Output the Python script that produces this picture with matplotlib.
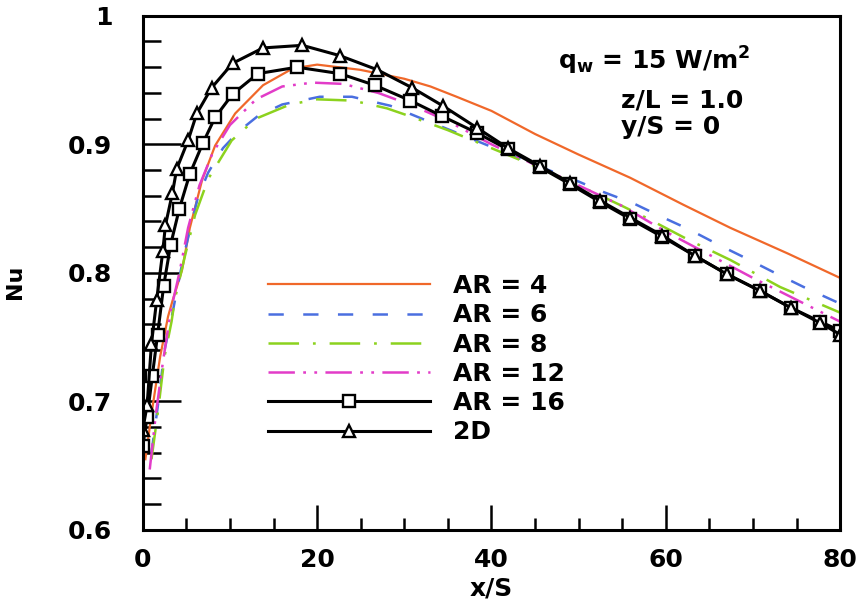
import matplotlib
matplotlib.use('Agg')
import matplotlib.pyplot as plt

plt.rcParams['font.family'] = ['DejaVu Sans']
plt.rcParams['font.weight'] = 'bold'
plt.rcParams['mathtext.fontset'] = 'custom'
plt.rcParams['mathtext.rm'] = 'DejaVu Sans:bold'
plt.rcParams['mathtext.bf'] = 'DejaVu Sans:bold'
plt.rcParams['mathtext.it'] = 'DejaVu Sans:bold'
plt.rcParams['lines.scale_dashes'] = False

# AR = 4
x_ar4 = [0.3, 1.0, 2.0, 2.9, 3.4, 4.5, 5.4, 6.8, 8.3, 10.6, 13.8, 17.2, 20.0, 24.9, 30.0,
         33.0, 36.0, 40.0, 45.0, 50.0, 55.9, 62.0, 67.4, 74.0, 80.0]
nu_ar4 = [0.655, 0.690, 0.735, 0.766, 0.778, 0.802, 0.835, 0.872, 0.899, 0.924, 0.946, 0.959,
          0.962, 0.958, 0.951, 0.945, 0.937, 0.926, 0.908, 0.892, 0.874, 0.853, 0.835, 0.815,
          0.796]

# AR = 6
x_ar6 = [1.0, 1.8, 2.5, 3.3, 4.6, 5.6, 6.3, 7.5, 9.2, 11.0, 13.2, 16.0, 20.3, 24.0, 28.4,
         32.0, 36.0, 40.0, 45.0, 50.0, 52.8, 56.3, 59.7, 62.6, 66.0, 69.3, 72.5, 75.8, 80.0]
nu_ar6 = [0.660, 0.700, 0.740, 0.765, 0.810, 0.839, 0.858, 0.878, 0.897, 0.910, 0.922, 0.931,
          0.937, 0.937, 0.930, 0.920, 0.909, 0.898, 0.884, 0.871, 0.863, 0.854, 0.843, 0.834,
          0.822, 0.811, 0.800, 0.789, 0.776]

# AR = 8
x_ar8 = [1.0, 1.8, 2.5, 3.3, 3.7, 4.8, 6.0, 7.5, 10.2, 13.0, 16.9, 20.0, 24.1, 28.0, 31.0,
         35.0, 40.0, 45.0, 50.0, 55.0, 58.0, 62.5, 67.4, 73.1, 80.0]
nu_ar8 = [0.655, 0.695, 0.735, 0.762, 0.780, 0.812, 0.845, 0.873, 0.903, 0.920, 0.931, 0.935,
          0.934, 0.928, 0.921, 0.911, 0.897, 0.883, 0.868, 0.852, 0.842, 0.826, 0.810, 0.789,
          0.769]

# AR = 12
x_ar12 = [0.8, 1.5, 2.3, 3.2, 4.2, 5.2, 6.5, 8.0, 10.0, 13.0, 16.0, 19.5, 23.0, 27.0, 31.0,
          35.0, 40.0, 45.0, 50.0, 55.0, 60.0, 65.0, 70.0, 75.0, 80.0]
nu_ar12 = [0.647, 0.690, 0.730, 0.770, 0.800, 0.835, 0.868, 0.893, 0.915, 0.935, 0.945, 0.948,
           0.947, 0.940, 0.930, 0.918, 0.900, 0.884, 0.868, 0.852, 0.832, 0.814, 0.796, 0.779,
           0.762]

# AR = 16
x_ar16 = [0.0, 0.5, 1.1, 1.7, 2.4, 3.2, 4.2, 5.4, 6.9, 8.3, 10.3, 13.2, 17.7, 22.6, 26.6,
          30.7, 34.3, 38.3, 41.9, 45.6, 49.0, 52.5, 55.9, 59.6, 63.4, 67.0, 70.8, 74.3, 77.7, 80.0]
nu_ar16 = [0.665, 0.688, 0.720, 0.752, 0.790, 0.822, 0.850, 0.877, 0.901, 0.921, 0.939, 0.955,
           0.960, 0.955, 0.946, 0.934, 0.922, 0.909, 0.896, 0.882, 0.869, 0.855, 0.842, 0.828,
           0.813, 0.799, 0.786, 0.773, 0.762, 0.755]

# 2D
x_2d = [0.0, 0.5, 1.0, 1.6, 2.3, 2.6, 3.4, 3.9, 5.2, 6.2, 7.9, 10.3, 13.8, 18.3, 22.6, 26.9,
        30.9, 34.4, 38.3, 41.9, 45.6, 49.0, 52.5, 55.9, 59.6, 63.4, 67.0, 70.8, 74.3, 77.7, 80.0]
nu_2d = [0.678, 0.697, 0.745, 0.779, 0.817, 0.837, 0.862, 0.881, 0.903, 0.924, 0.944, 0.963,
         0.975, 0.977, 0.969, 0.958, 0.944, 0.930, 0.913, 0.897, 0.883, 0.870, 0.856, 0.843,
         0.829, 0.813, 0.799, 0.786, 0.773, 0.761, 0.752]

fig = plt.figure(figsize=(8.6, 6.07), dpi=100)
ax = fig.add_axes([0.166, 0.127, 0.811, 0.847])

ax.plot(x_ar4, nu_ar4, color='#f0682a', lw=1.6, label='AR = 4')
ax.plot(x_ar6, nu_ar6, color='#4a6fe0', lw=1.8, linestyle=(0, (11, 14)), label='AR = 6')
ax.plot(x_ar8, nu_ar8, color='#8cd21e', lw=1.8, linestyle=(0, (22, 10, 2, 10)), label='AR = 8')
ax.plot(x_ar12, nu_ar12, color='#e23cc8', lw=1.8, linestyle=(0, (19, 6, 2, 6, 2, 6)), label='AR = 12')
ax.plot(x_ar16, nu_ar16, color='black', lw=2.2, marker='s', markersize=8,
        markerfacecolor='white', markeredgecolor='black', markeredgewidth=1.7, label='AR = 16')
ax.plot(x_2d, nu_2d, color='black', lw=2.2, marker='^', markersize=9,
        markerfacecolor='white', markeredgecolor='black', markeredgewidth=1.7, label='2D')

ax.set_xlim(0, 80)
ax.set_ylim(0.6, 1.0)
ax.set_xticks([0, 20, 40, 60, 80])
ax.set_xticks(range(0, 81, 5), minor=True)
ax.set_yticks([0.6, 0.7, 0.8, 0.9, 1.0])
ax.set_yticklabels(['0.6', '0.7', '0.8', '0.9', '1'])
ax.set_yticks([0.6 + 0.02 * i for i in range(21)], minor=True)

ax.tick_params(axis='x', which='major', direction='in', length=18, width=1.8, pad=13, labelsize=18)
ax.tick_params(axis='x', which='minor', direction='in', length=9, width=1.8)
ax.tick_params(axis='y', which='major', direction='in', length=27, width=1.8, pad=22, labelsize=18)
ax.tick_params(axis='y', which='minor', direction='in', length=13, width=1.8)
for s in ax.spines.values():
    s.set_linewidth(2.2)

ax.set_xlabel('x/S', fontsize=18, fontweight='bold')
ax.xaxis.set_label_coords(0.5, -0.09)
ax.set_ylabel('Nu', fontsize=16, fontweight='bold')
ax.yaxis.set_label_coords(-0.169, 0.483)

ax.text(0.595, 0.913, r'$\mathbf{q_w}$ = 15 W/m$^\mathbf{2}$', transform=ax.transAxes,
        fontsize=18, fontweight='bold', va='center', ha='left')
ax.text(0.685, 0.835, 'z/L = 1.0', transform=ax.transAxes,
        fontsize=18, fontweight='bold', va='center', ha='left')
ax.text(0.685, 0.783, 'y/S = 0', transform=ax.transAxes,
        fontsize=18, fontweight='bold', va='center', ha='left')

leg = ax.legend(loc='upper left', bbox_to_anchor=(0.165, 0.517), frameon=False, fontsize=18,
                handlelength=6.5, handletextpad=0.9, labelspacing=0.21, borderaxespad=0)

fig.savefig('out.png', dpi=100)
